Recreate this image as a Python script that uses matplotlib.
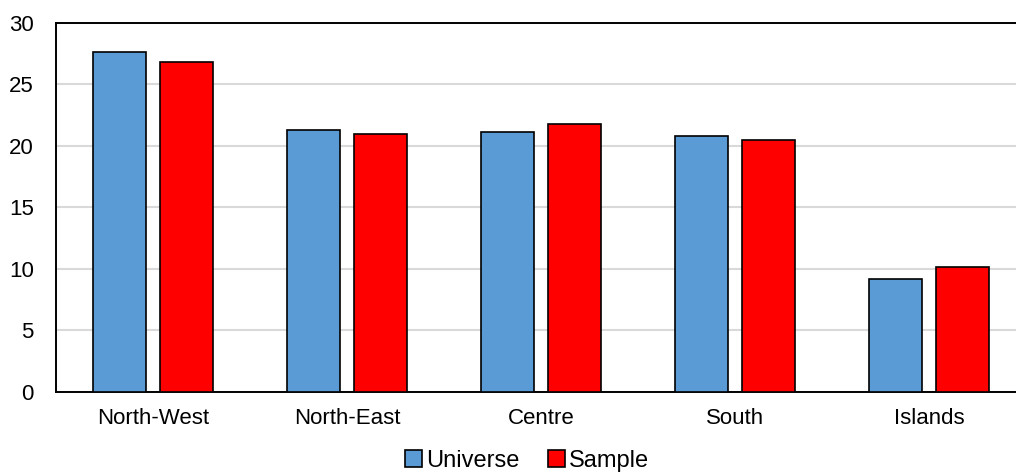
import numpy as np
import matplotlib.pyplot as plt

regions = ["North-West", "North-East", "Centre", "South", "Islands"]
universe = [27.6, 21.3, 21.15, 20.8, 9.2]
sample = [26.8, 20.95, 21.75, 20.45, 10.15]
yticks = [0, 5, 10, 15, 20, 25, 30]

plt.rcParams['font.family'] = ['Liberation Sans', 'DejaVu Sans']

fig = plt.figure(figsize=(10.16, 4.73), dpi=100)
# axes run a bit past the right edge of the figure
ax = fig.add_axes([0.0551, 0.1719, 0.9547, 0.780])

x = np.arange(len(regions))
w = 0.273
off = 0.173
ax.bar(x - off, universe, w, color="#5b9bd5", edgecolor="black",
       linewidth=1.2, label="Universe", zorder=3)
ax.bar(x + off, sample, w, color="#ff0000", edgecolor="black",
       linewidth=1.2, label="Sample", zorder=3)

ax.set_xlim(-0.5, len(regions) - 0.5)
ax.set_ylim(0, 30)
ax.set_yticks(yticks)
ax.set_xticks(x)
ax.set_xticklabels(regions)
ax.tick_params(length=0, labelsize=16, colors="black")
ax.tick_params(axis="x", pad=12)
ax.tick_params(axis="y", pad=16)
ax.yaxis.grid(True, color="#d9d9d9", linewidth=1.5, zorder=0)
ax.set_axisbelow(True)
for s in ax.spines.values():
    s.set_linewidth(1.4)
    s.set_color("black")

fig.legend(loc="center", bbox_to_anchor=(0.519, 0.026), ncol=2,
           frameon=False, fontsize=17, handlelength=0.7, handleheight=0.7,
           handletextpad=0.2, columnspacing=1.2)

fig.savefig("out.png", dpi=100)
